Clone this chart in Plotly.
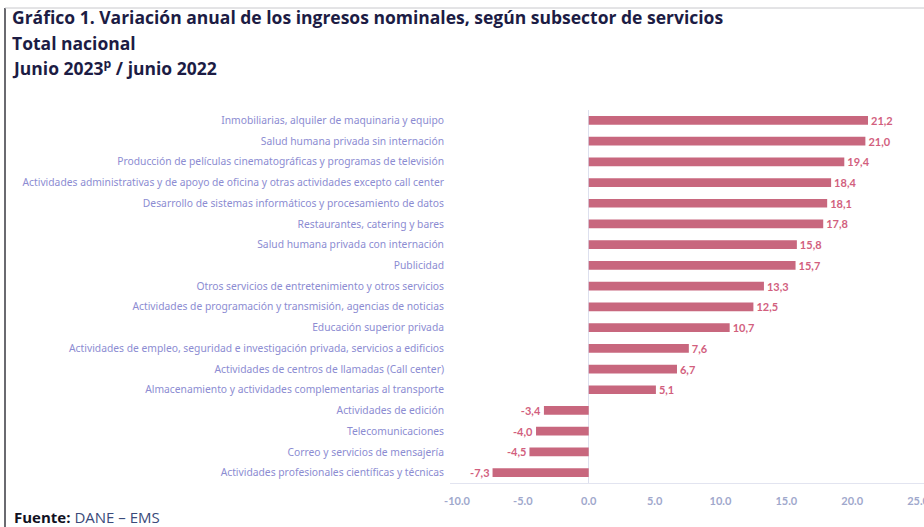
import plotly.graph_objects as go

categorias = [
    "Inmobiliarias, alquiler de maquinaria y equipo",
    "Salud humana privada sin internación",
    "Producción de películas cinematográficas y programas de televisión",
    "Actividades administrativas y de apoyo de oficina y otras actividades excepto call center",
    "Desarrollo de sistemas informáticos y procesamiento de datos",
    "Restaurantes, catering y bares",
    "Salud humana privada con internación",
    "Publicidad",
    "Otros servicios de entretenimiento y otros servicios",
    "Actividades de programación y transmisión, agencias de noticias",
    "Educación superior privada",
    "Actividades de empleo, seguridad e investigación privada, servicios a edificios",
    "Actividades de centros de llamadas (Call center)",
    "Almacenamiento y actividades complementarias al transporte",
    "Actividades de edición",
    "Telecomunicaciones",
    "Correo y servicios de mensajería",
    "Actividades profesionales científicas y técnicas",
]
valores = [21.2, 21.0, 19.4, 18.4, 18.1, 17.8, 15.8, 15.7, 13.3, 12.5, 10.7, 7.6, 6.7, 5.1, -3.4, -4.0, -4.5, -7.3]
etiquetas = [f"{v:.1f}".replace(".", ",") for v in valores]
tick_vals = [-10, -5, 0, 5, 10, 15, 20, 25]
tick_text = ["-10.0", "-5.0", "0.0", "5.0", "10.0", "15.0", "20.0", "25.0"]

W, H = 924, 527
L, R, T, B = 450, 0, 110, 44
PW, PH = W - L - R, H - T - B

def px(x):
    return (x - L) / PW

def py(y):
    return (H - B - y) / PH

fig = go.Figure(go.Bar(
    x=valores, y=categorias, orientation="h",
    marker=dict(color="#c8677e", line=dict(width=0)),
    text=etiquetas, textposition="outside", cliponaxis=False, constraintext="none",
    textfont=dict(family="Lato", size=11, color="#d25f7e", weight="bold"),
    hoverinfo="skip",
))

fig.update_layout(
    width=W, height=H,
    margin=dict(l=L, r=R, t=T, b=B, autoexpand=False),
    paper_bgcolor="white", plot_bgcolor="white",
    bargap=0.58, showlegend=False,
    font=dict(family="Noto Sans"),
)
fig.update_yaxes(
    autorange="reversed", showgrid=False, zeroline=False, showline=False,
    tickfont=dict(family="Noto Sans", size=10.3, color="#8c8cd2"),
    ticks="", ticklabelstandoff=5, automargin=False,
)
fig.update_xaxes(
    range=[-10.53, 25.45], tickvals=tick_vals, ticktext=tick_text,
    showgrid=False, zeroline=True, zerolinecolor="#dde0ee", zerolinewidth=1,
    showline=True, linecolor="#e2e4f0", linewidth=1,
    tickfont=dict(family="Lato", size=11, color="#a0a8cc", weight="bold"),
    ticks="", ticklabelstandoff=8, automargin=False, ticklabeloverflow="allow",
)

title_lines = [
    ("Gráfico 1. Variación anual de los ingresos nominales, según subsector de servicios", 17),
    ("Total nacional", 43),
    ("Junio 2023<sup>p</sup> / junio 2022", 68),
]
for txt, y in title_lines:
    fig.add_annotation(
        text=f"<b>{txt}</b>", xref="paper", yref="paper",
        x=px(10), y=py(y), xanchor="left", yanchor="middle", showarrow=False,
        font=dict(family="Open Sans", size=17.5, color="#1c1c44"),
    )
fig.add_annotation(
    text="<b>Fuente:</b> <span style='color:#3a4a7a'>DANE – EMS</span>",
    xref="paper", yref="paper", x=px(12), y=py(517), xanchor="left", yanchor="middle",
    showarrow=False, font=dict(family="Open Sans", size=15, color="#111122"),
)

fig.add_shape(type="line", xref="paper", yref="paper",
              x0=px(5), x1=px(5), y0=py(8), y1=py(527),
              line=dict(color="#6a6a70", width=2))
fig.add_shape(type="line", xref="paper", yref="paper",
              x0=px(5), x1=px(924), y0=py(8), y1=py(8),
              line=dict(color="#c8c8cc", width=1))

fig.write_html("out.html", config={"displayModeBar": False},
               post_script="document.body.style.margin='0px';")
